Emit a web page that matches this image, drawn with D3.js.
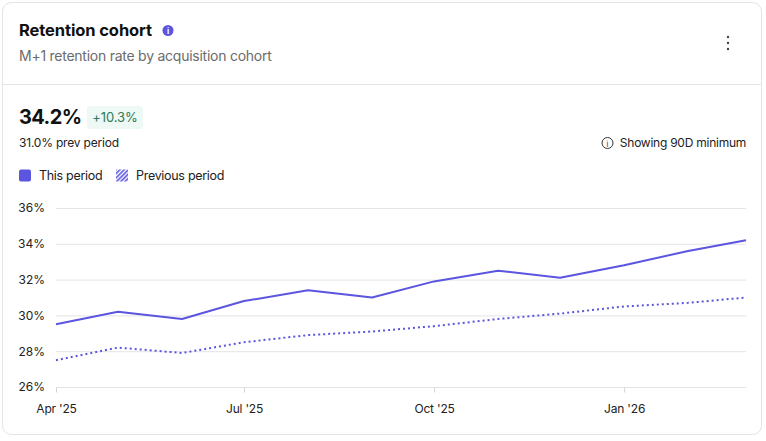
<!DOCTYPE html>
<html><head><meta charset="utf-8">
<script src="https://cdn.jsdelivr.net/npm/d3@7/dist/d3.min.js"></script>
<style>
html,body{margin:0;padding:0;background:#fff;}
svg{display:block;font-family:Inter,"Noto Sans",sans-serif;}
</style></head>
<body>
<svg id="c" width="766" height="441"></svg>
<script>
const months = ["2025-04-01","2025-05-01","2025-06-01","2025-07-01","2025-08-01","2025-09-01","2025-10-01","2025-11-01","2025-12-01","2026-01-01","2026-02-01","2026-03-01"];
const thisPeriod = [29.5,30.2,29.8,30.8,31.4,31.0,31.9,32.5,32.1,32.8,33.6,34.2];
const prevPeriod = [27.5,28.2,27.9,28.5,28.9,29.1,29.4,29.8,30.1,30.5,30.7,31.0];
const yTicks = [26,28,30,32,34,36];
const xTickDates = ["2025-04-01","2025-07-01","2025-10-01","2026-01-01"];
const color = "#5b55e0";

const parse = d3.utcParse("%Y-%m-%d");
const fmt = d3.utcFormat("%b '%y");

const svg = d3.select("#c");
const defs = svg.append("defs");
const pat = defs.append("pattern").attr("id","hatch").attr("patternUnits","userSpaceOnUse")
  .attr("width",3).attr("height",3).attr("patternTransform","rotate(45)");
pat.append("rect").attr("width",1.6).attr("height",3).attr("fill",color);

// card
svg.append("rect").attr("x",2.5).attr("y",2.5).attr("width",759).attr("height",432)
  .attr("rx",9).attr("fill","#fff").attr("stroke","#e4e4e7");
svg.append("line").attr("x1",3).attr("x2",761).attr("y1",84.5).attr("y2",84.5).attr("stroke","#e4e4e7");

// header
svg.append("text").attr("x",19).attr("y",36).attr("font-size",16.5).attr("font-weight",700)
  .attr("fill","#111").attr("letter-spacing","-0.1").text("Retention cohort");
svg.append("circle").attr("cx",168).attr("cy",30.5).attr("r",5.5).attr("fill",color);
svg.append("text").attr("x",168).attr("y",33.5).attr("text-anchor","middle").attr("font-size",8)
  .attr("font-weight",700).attr("fill","#fff").text("i");
svg.append("text").attr("x",19).attr("y",61).attr("font-size",14).attr("fill","#6b6b6b")
  .attr("letter-spacing","-0.25").text("M+1 retention rate by acquisition cohort");
[37,43,49].forEach(cy=>svg.append("circle").attr("cx",728).attr("cy",cy).attr("r",1.2).attr("fill","#444"));

// KPI
svg.append("text").attr("x",19).attr("y",124).attr("font-size",20).attr("font-weight",700)
  .attr("fill","#111").attr("letter-spacing","-0.6").text("34.2%");
svg.append("rect").attr("x",87).attr("y",106).attr("width",56).attr("height",23).attr("rx",3).attr("fill","#eef8f4");
svg.append("text").attr("x",115).attr("y",122).attr("text-anchor","middle").attr("font-size",13)
  .attr("fill","#2f7a5a").attr("letter-spacing","-0.1").text("+10.3%");
svg.append("text").attr("x",19).attr("y",147).attr("font-size",12).attr("fill","#222")
  .attr("letter-spacing","-0.2").text("31.0% prev period");
svg.append("circle").attr("cx",607.5).attr("cy",143).attr("r",5.5).attr("fill","none").attr("stroke","#333").attr("stroke-width",1);
svg.append("text").attr("x",607.5).attr("y",146.5).attr("text-anchor","middle").attr("font-size",7.5).attr("fill","#333").text("i");
svg.append("text").attr("x",746).attr("y",147).attr("text-anchor","end").attr("font-size",12).attr("fill","#222")
  .attr("letter-spacing","-0.25").text("Showing 90D minimum");

// legend
svg.append("rect").attr("x",19).attr("y",169.5).attr("width",12).attr("height",12).attr("rx",2).attr("fill",color);
svg.append("text").attr("x",39).attr("y",180).attr("font-size",12.5).attr("fill","#222")
  .attr("letter-spacing","-0.3").text("This period");
svg.append("rect").attr("x",116).attr("y",169.5).attr("width",12).attr("height",12).attr("fill","url(#hatch)");
svg.append("text").attr("x",136).attr("y",180).attr("font-size",12.5).attr("fill","#222")
  .attr("letter-spacing","-0.3").text("Previous period");

// chart
const dates = months.map(parse);
const x = d3.scaleUtc().domain([dates[0], dates[dates.length-1]]).range([56,746]);
const y = d3.scaleLinear().domain([26,36]).range([387,208]);

const grid = svg.append("g");
grid.selectAll("line").data(yTicks.slice(1)).join("line")
  .attr("x1",56).attr("x2",746).attr("y1",d=>y(d)+0.5).attr("y2",d=>y(d)+0.5)
  .attr("stroke","#e4e4e7");

const yAxis = svg.append("g").attr("transform","translate(45,0)")
  .call(d3.axisLeft(y).tickValues(yTicks).tickFormat(d=>d+"%").tickSize(0).tickPadding(0));
yAxis.select(".domain").remove();
yAxis.selectAll("text").attr("font-size",12).attr("fill","#222").attr("font-family","Inter,sans-serif");

const xAxis = svg.append("g").attr("transform","translate(0,387.5)")
  .call(d3.axisBottom(x).tickValues(xTickDates.map(parse)).tickFormat(fmt).tickSize(5).tickPadding(12));
xAxis.select(".domain").attr("stroke","#e4e4e7").attr("d","M56,0H746");
xAxis.selectAll(".tick line").attr("stroke","#d4d4d8");
xAxis.selectAll("text").attr("font-size",12).attr("fill","#222").attr("font-family","Inter,sans-serif")
  .attr("letter-spacing","-0.2");

const line = d3.line().x((d,i)=>x(dates[i])).y(d=>y(d));
svg.append("path").datum(prevPeriod).attr("d",line).attr("fill","none")
  .attr("stroke",color).attr("stroke-width",2).attr("stroke-dasharray","2,3");
svg.append("path").datum(thisPeriod).attr("d",line).attr("fill","none")
  .attr("stroke",color).attr("stroke-width",2).attr("stroke-linejoin","round");
</script>
</body></html>
